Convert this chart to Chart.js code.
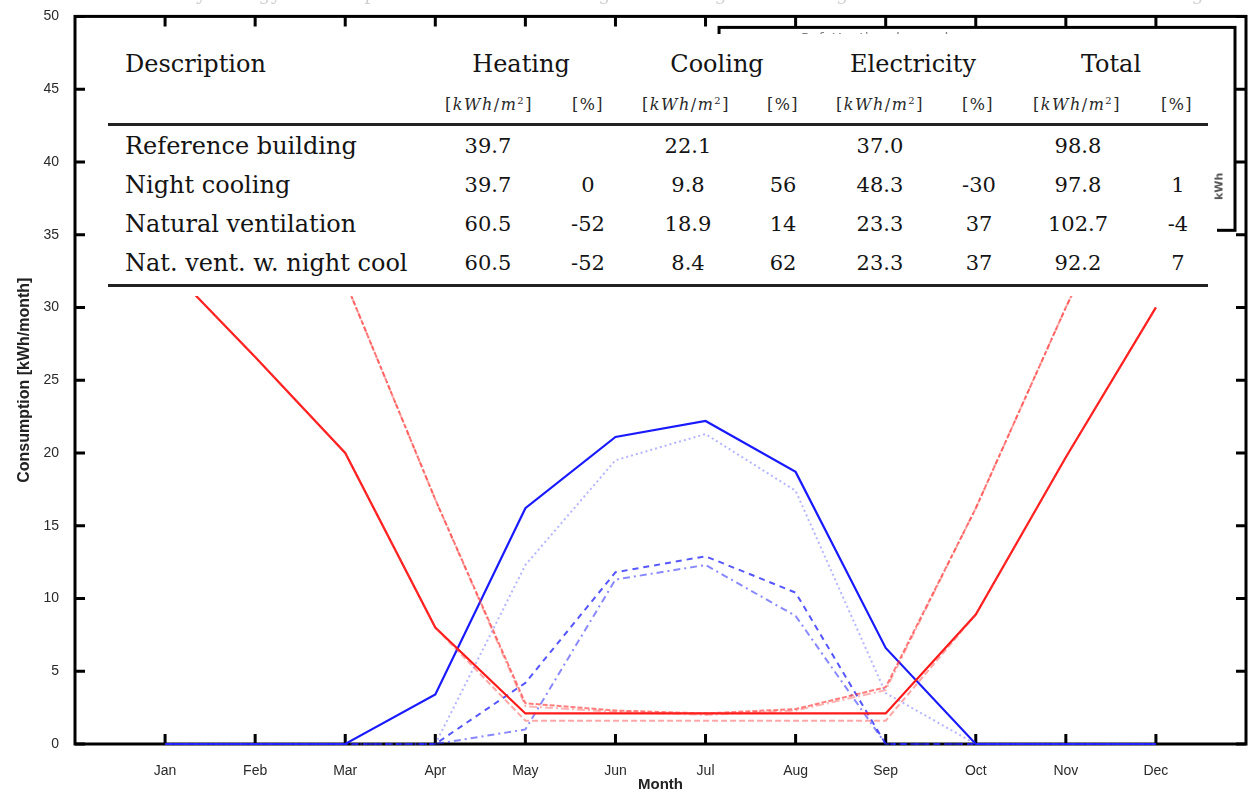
<!DOCTYPE html>
<html><head><meta charset="utf-8">
<script src="https://cdn.jsdelivr.net/npm/chart.js@4.4.1/dist/chart.umd.min.js"></script>
<style>
html,body{margin:0;padding:0;background:#fff;overflow:hidden}
#wrap{position:relative;width:1251px;height:803px;overflow:hidden}
#cap{position:absolute;left:125px;top:-18px;font-family:'DejaVu Serif',serif;font-size:19px;color:#d0d0d0;white-space:nowrap;letter-spacing:0.3px}
.t{position:absolute;font-family:'DejaVu Serif',serif;color:#141414;white-space:nowrap}
.c{transform:translateX(-50%)}
.rule{position:absolute;left:108px;width:1100px;background:#222}
.sub{letter-spacing:1.5px;color:#2a2a2a}
.sub sup{font-size:10px;line-height:0;vertical-align:6px}
#tbl{position:absolute;left:90px;top:34px;width:1127px;height:262px;background:#fff}
#frag{position:absolute;left:1219px;top:200px;transform:translate(0,-50%) rotate(-90deg);transform-origin:0 50%;font-family:'DejaVu Sans',sans-serif;font-size:11px;font-weight:bold;color:#555}
</style></head>
<body>
<div id="wrap">
<canvas id="c" width="1251" height="803"></canvas>
<div id="cap">Monthly energy consumption of the test building for heating and cooling for the different ventilation strategies</div>
<div id="tbl"></div>
</div>
<script>
const months = ['Jan','Feb','Mar','Apr','May','Jun','Jul','Aug','Sep','Oct','Nov','Dec'];
const yTicks = [0,5,10,15,20,25,30,35,40,45,50];

const heatRef          = [33.0, 26.6, 20.0, 8.0, 2.1, 2.1, 2.1, 2.1, 2.1, 8.9, 19.7, 30.0];
const heatNightCool    = [33.0, 26.6, 20.0, 8.0, 1.6, 1.6, 1.6, 1.6, 1.6, 8.9, 19.7, 30.0];
const heatNatVent      = [47.0, 41.0, 31.8, 16.8, 2.8, 2.3, 2.1, 2.4, 3.9, 16.2, 30.0, 43.0];
const heatNatVentNight = [47.0, 41.0, 31.8, 16.8, 2.6, 2.2, 2.0, 2.3, 3.7, 16.2, 30.0, 43.0];

const coolRef          = [0, 0, 0, 3.4, 16.2, 21.1, 22.2, 18.7, 6.6, 0, 0, 0];
const coolNatVent      = [0, 0, 0, 0, 12.3, 19.5, 21.3, 17.4, 3.5, 0, 0, 0];
const coolNightCool    = [0, 0, 0, 0, 4.2, 11.8, 12.9, 10.4, 0, 0, 0, 0];
const coolNatVentNight = [0, 0, 0, 0, 1.0, 11.3, 12.3, 8.8, 0, 0, 0, 0];

// table
const tblHeads   = ['Heating','Cooling','Electricity','Total'];
const tblRows    = ['Reference building','Night cooling','Natural ventilation','Nat. vent. w. night cool'];
const tblHeating = ['39.7','39.7','60.5','60.5'];
const tblHeatPct = ['','0','-52','-52'];
const tblCooling = ['22.1','9.8','18.9','8.4'];
const tblCoolPct = ['','56','14','62'];
const tblElec    = ['37.0','48.3','23.3','23.3'];
const tblElecPct = ['','-30','37','37'];
const tblTotal   = ['98.8','97.8','102.7','92.2'];
const tblTotPct  = ['','1','-4','7'];

(function buildTable(){
  const wrap = document.getElementById('wrap');
  function add(html, x, base, size, center, cls){
    const d = document.createElement('div');
    d.className = 't' + (center ? ' c' : '') + (cls ? ' ' + cls : '');
    d.style.fontSize = size + 'px';
    d.style.lineHeight = size + 'px';
    d.style.left = x + 'px';
    d.style.top = (base - 0.846*size) + 'px';
    d.innerHTML = html;
    wrap.appendChild(d);
  }
  function rule(y, h){
    const r = document.createElement('div'); r.className='rule';
    r.style.top = y + 'px'; r.style.height = h + 'px'; wrap.appendChild(r);
  }
  add('Description', 125, 72, 24, false);
  const headX = [521, 717, 913, 1111];
  tblHeads.forEach((h,i)=>add(h, headX[i], 72, 24, true));
  const unit = '[<i>kWh</i>/<i>m</i><sup>2</sup>]';
  const kX = [489, 686, 880, 1077], pX = [588, 783, 978, 1177];
  kX.forEach(x=>add(unit, x, 111, 16, true, 'sub'));
  pX.forEach(x=>add('[%]', x, 111, 16, true, 'sub'));
  rule(123, 2.5);
  const bases = [154, 193, 232, 271];
  const cols = [tblHeating, tblHeatPct, tblCooling, tblCoolPct, tblElec, tblElecPct, tblTotal, tblTotPct];
  const colX = [488, 588, 688, 783, 880, 979, 1078, 1178];
  tblRows.forEach((r,i)=>{
    add(r, 125, bases[i], 24, false);
    cols.forEach((col,j)=>{ if (col[i] !== '') add(col[i], colX[j], bases[i], 21, true); });
  });
  rule(284, 3);
  const frag = document.createElement('div'); frag.id='frag'; frag.textContent='kWh'; wrap.appendChild(frag);
})();

const framePlugin = {
  id: 'frame',
  beforeDatasetsDraw(chart){
    const {ctx, chartArea:a, scales:{x, y}} = chart;
    ctx.save();
    ctx.strokeStyle = '#000';
    ctx.lineWidth = 3;
    ctx.strokeRect(a.left, a.top, a.right - a.left, a.bottom - a.top);
    ctx.beginPath();
    months.forEach((m,i)=>{
      const px = x.getPixelForValue(i+1);
      ctx.moveTo(px, a.bottom); ctx.lineTo(px, a.bottom - 10);
      ctx.moveTo(px, a.top); ctx.lineTo(px, a.top + 10);
    });
    yTicks.forEach(v=>{
      const py = y.getPixelForValue(v);
      ctx.moveTo(a.left, py); ctx.lineTo(a.left + 10, py);
      ctx.moveTo(a.right, py); ctx.lineTo(a.right - 10, py);
    });
    ctx.stroke();
    // legend box (mostly hidden under the table)
    const lx = x.getPixelForValue(7.15), rx = a.right - 11;
    ctx.strokeRect(lx, a.top + 11, rx - lx, y.getPixelForValue(35.3) - a.top - 11);
    ctx.fillStyle = '#7a7a7a';
    ctx.font = '14px "DejaVu Sans"';
    ctx.fillText('Ref. Heating demand', lx + 82, a.top + 27);
    ctx.restore();
  }
};

function ds(label, data, color, width, dash){
  return {
    label, data: data.map((v,i)=>({x:i+1, y:v})),
    borderColor: color, borderWidth: width, borderDash: dash || [],
    pointRadius: 0, tension: 0, fill: false, clip: 4
  };
}

new Chart(document.getElementById('c'), {
  type: 'line',
  data: {
    datasets: [
      ds('Heating, nat. vent. w. night cool', heatNatVentNight, 'rgba(255,40,40,0.35)', 2, [8,3,2,3]),
      ds('Heating, natural ventilation', heatNatVent, 'rgba(255,40,40,0.6)', 2, [5,2]),
      ds('Heating, night cooling', heatNightCool, 'rgba(255,60,60,0.45)', 2, [6,3]),
      ds('Heating, reference', heatRef, '#ff1a1a', 2.2),
      ds('Cooling, nat. vent. w. night cool', coolNatVentNight, 'rgba(40,40,255,0.55)', 2, [7,4,2,4]),
      ds('Cooling, night cooling', coolNightCool, 'rgba(30,30,255,0.75)', 2, [6,5]),
      ds('Cooling, natural ventilation', coolNatVent, 'rgba(70,70,255,0.4)', 2, [2,3]),
      ds('Cooling, reference', coolRef, '#1a1aff', 2.2)
    ]
  },
  options: {
    responsive: false,
    animation: false,
    layout: { padding: { left: 0, top: 15, right: 5, bottom: 0 } },
    plugins: { legend: { display: false }, tooltip: { enabled: false } },
    scales: {
      x: {
        type: 'linear', min: 0, max: 13,
        afterBuildTicks(s){ s.ticks = months.map((m,i)=>({value: i+1})); },
        afterFit(s){ s.height = 59; },
        grid: { display: false }, border: { display: false },
        ticks: { callback: v => months[v-1], font: { family: 'Liberation Sans', size: 14 }, color: '#2a2a2a', padding: 11, maxRotation: 0, autoSkip: false },
        title: { display: true, text: 'Month', font: { family: 'Liberation Sans', size: 15, weight: 'bold' }, color: '#222', padding: { top: 0, bottom: 9 } }
      },
      y: {
        min: 0, max: 50,
        afterBuildTicks(s){ s.ticks = yTicks.map(v=>({value: v})); },
        afterFit(s){ s.width = 75; },
        grid: { display: false }, border: { display: false },
        ticks: { font: { family: 'Liberation Sans', size: 14 }, color: '#2a2a2a', padding: 8 },
        title: { display: true, text: 'Consumption [kWh/month]', font: { family: 'Liberation Sans', size: 16, weight: 'bold' }, color: '#222', padding: { top: 15, bottom: 0 } }
      }
    }
  },
  plugins: [framePlugin]
});
</script>
</body></html>
